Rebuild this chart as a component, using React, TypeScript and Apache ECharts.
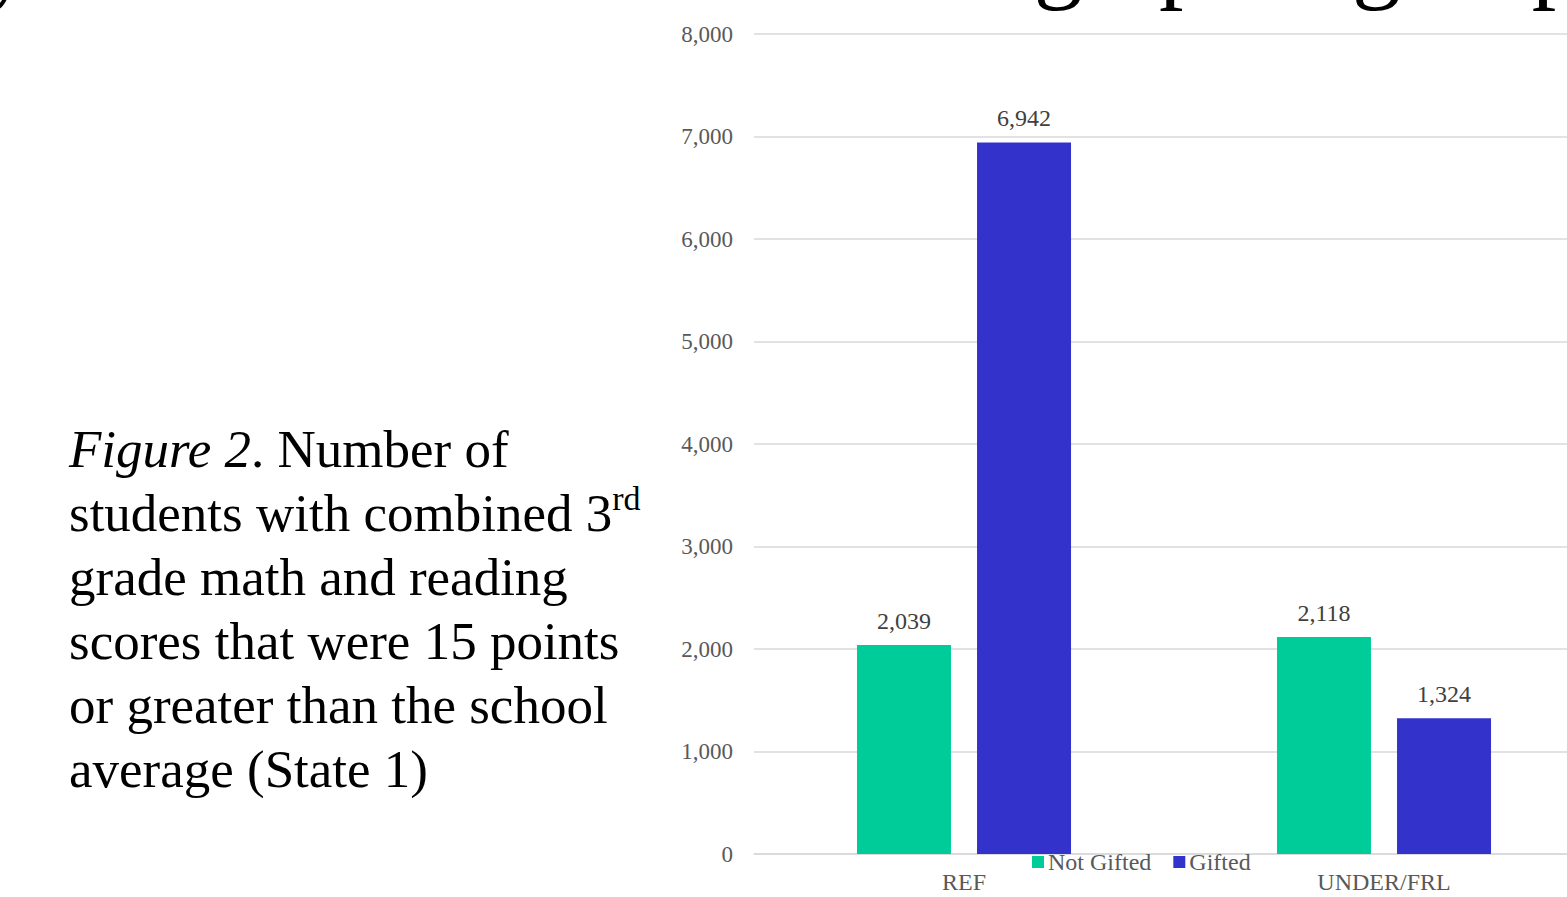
import React, { useEffect, useRef } from "react";
import * as echarts from "echarts";

// Student counts per group
const categories = ["REF", "UNDER/FRL"];
const seriesNames = ["Not Gifted", "Gifted"];
const notGifted = [2039, 2118];
const gifted = [6942, 1324];

// Value axis range
const yMin = 0;
const yMax = 8000;
const yStep = 1000;

const SERIF = '"Liberation Serif", "Times New Roman", serif';
const GREEN = "#00CC99";
const BLUE = "#3333CC";

const fmt = (v: number) => v.toLocaleString("en-US");

const headline = "Gifted Eligibility Counts Within the Demographic groups";

const caption =
  "{i|Figure 2}. Number of\n" +
  "students with combined 3{sup|rd}\n" +
  "grade math and reading\n" +
  "scores that were 15 points\n" +
  "or greater than the school\n" +
  "average (State 1)";

export default function App() {
  const ref = useRef<HTMLDivElement>(null);

  useEffect(() => {
    if (!ref.current) return;
    const chart = echarts.init(ref.current, undefined, { renderer: "svg" });

    const label = {
      show: true,
      position: "top",
      distance: 12,
      color: "#404040",
      fontFamily: SERIF,
      fontSize: 24,
      formatter: (p: any) => fmt(p.value),
    };

    chart.setOption({
      animation: false,
      backgroundColor: "#ffffff",
      textStyle: { fontFamily: SERIF },
      grid: { left: 754, right: 6, top: 34, bottom: 43, containLabel: false },
      legend: {
        data: seriesNames,
        left: 1032,
        top: 850,
        padding: 0,
        itemWidth: 12,
        itemHeight: 12,
        itemGap: 22,
        icon: "rect",
        textStyle: { color: "#595959", fontFamily: SERIF, fontSize: 24, padding: [0, 0, 0, -1] },
      },
      xAxis: {
        type: "category",
        data: categories,
        axisLine: { show: true, lineStyle: { color: "#d9d9d9", width: 1.5 } },
        axisTick: { show: false },
        axisLabel: { color: "#595959", fontFamily: SERIF, fontSize: 24, margin: 16 },
      },
      yAxis: {
        type: "value",
        min: yMin,
        max: yMax,
        interval: yStep,
        axisLine: { show: false },
        axisTick: { show: false },
        splitLine: { lineStyle: { color: "#d9d9d9", width: 1.5 } },
        axisLabel: {
          color: "#595959",
          fontFamily: SERIF,
          fontSize: 23,
          margin: 21,
          formatter: (v: number) => fmt(v),
        },
      },
      series: [
        {
          name: seriesNames[0],
          type: "bar",
          data: notGifted,
          barWidth: 94,
          barGap: "27.7%",
          itemStyle: { color: GREEN },
          label,
        },
        {
          name: seriesNames[1],
          type: "bar",
          data: gifted,
          barWidth: 94,
          barGap: "27.7%",
          itemStyle: { color: BLUE },
          label,
        },
      ],
      graphic: [
        {
          type: "text",
          x: -640,
          y: -43,
          silent: true,
          style: {
            text: headline,
            fill: "#000000",
            font: `98px ${SERIF}`,
            align: "left",
            textAlign: "left",
            verticalAlign: "middle",
            textVerticalAlign: "middle",
          },
        },
        {
          type: "text",
          x: 69,
          y: 417,
          silent: true,
          style: {
            text: caption,
            fill: "#000000",
            font: `53px ${SERIF}`,
            lineHeight: 64,
            align: "left",
            textAlign: "left",
            verticalAlign: "top",
            textVerticalAlign: "top",
            rich: {
              i: { fontStyle: "italic", fontSize: 53, fontFamily: SERIF, lineHeight: 64, fill: "#000000" },
              sup: { fontSize: 34, fontFamily: SERIF, lineHeight: 43, verticalAlign: "top", fill: "#000000" },
            },
          },
        },
      ],
    });

    return () => chart.dispose();
  }, []);

  return (
    <div
      style={{
        position: "fixed",
        left: 0,
        top: 0,
        width: 1567,
        height: 897,
        overflow: "hidden",
        background: "#ffffff",
      }}
    >
      <div ref={ref} style={{ width: 1600, height: 897 }} />
    </div>
  );
}
